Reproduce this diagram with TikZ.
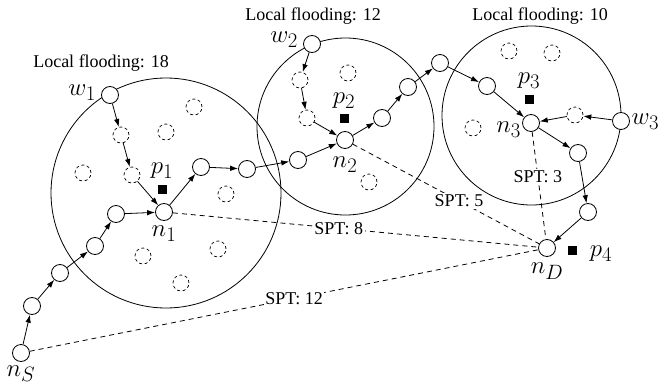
\documentclass[tikz,border=0pt]{standalone}
\usepackage{amsmath}
\usepackage{fontspec}
\setmainfont{Liberation Serif}
\usetikzlibrary{arrows.meta}

\begin{document}
\begin{tikzpicture}[x=1pt,y=-1pt,
	font=\fontsize{18}{21}\selectfont,
	every label/.style={font=\fontsize{24.88}{29}\selectfont,inner sep=1pt},
	sensor/.style={circle,draw,fill=white,line width=0.8pt,minimum size=17pt,inner sep=0pt},
	idle/.style={circle,draw,dash pattern=on 3pt off 2.6pt,line width=0.7pt,minimum size=16pt,inner sep=0pt},
	hop/.style={-{Latex[length=8pt,width=5.5pt]},line width=0.8pt},
	spt/.style={dash pattern=on 5pt off 4pt,line width=0.8pt},
	cost/.style={fill=white,inner sep=1.5pt},
	pkt/.style={fill=black,minimum size=9pt,inner sep=0pt}]
	\useasboundingbox (0,0) rectangle (661,388);

	% flooding areas
	\draw[line width=0.8pt] (166,193) circle (115pt);
	\draw[line width=0.8pt] (345.5,126.5) circle (88.5pt);
	\draw[line width=0.8pt] (531.5,115.5) circle (89.5pt);
	\node (title1) at (101,63) {Local flooding: 18};
	\node (title2) at (313,16) {Local flooding: 12};
	\node (title3) at (540,16) {Local flooding: 10};

	% idle sensors
	\node[idle] (z1) at (166,132) {};
	\node[idle] (z2) at (194,107) {};
	\node[idle] (z3) at (83,173) {};
	\node[idle] (z4) at (226,194) {};
	\node[idle] (z5) at (143,256) {};
	\node[idle] (z6) at (218,249) {};
	\node[idle] (z7) at (181,283) {};
	\node[idle] (z8) at (348,73) {};
	\node[idle] (z9) at (369,182) {};
	\node[idle] (z10) at (509,51) {};
	\node[idle] (z11) at (552,53) {};
	\node[idle] (z12) at (473,128) {};

	% shortest path trees
	\node[sensor,label={[label distance=2.5pt]below:$n_S$}] (nS) at (21,353) {};
	\node[sensor,label={[label distance=4pt]below:$n_1$}] (n1) at (164,212) {};
	\node[sensor,label={[label distance=7pt]below:$n_2$}] (n2) at (345,140) {};
	\node[sensor,label={[yshift=-7pt,label distance=0pt]left:$n_3$}] (n3) at (531,123) {};
	\node[sensor,label={[label distance=5pt]below:$n_D$}] (nD) at (547,248) {};
	\draw[spt] (n1) -- node[cost,pos=0.454] (spt8) {SPT: 8} (nD);
	\draw[spt] (nS) -- node[cost,pos=0.52] (spt12) {SPT: 12} (nD);
	\draw[spt] (n2) -- node[cost,pos=0.57] (spt5) {SPT: 5} (nD);
	\draw[spt] (n3) -- node[cost,pos=0.42] (spt3) {SPT: 3} (nD);

	% data packets
	\node[pkt,label={[label distance=5pt]above:$p_1$}] (pk1) at (162,189) {};
	\node[pkt,label={[label distance=3.5pt]above:$p_2$}] (pk2) at (344,118) {};
	\node[pkt,label={[label distance=4.5pt]above:$p_3$}] (pk3) at (529,99) {};
	\node[pkt,label={[label distance=12pt,yshift=-4pt]right:$p_4$}] (pk4) at (572,250) {};

	% route of the sink
	\node[sensor] (a1) at (32,306) {};
	\node[sensor] (a2) at (60,273) {};
	\node[sensor] (a3) at (95,246) {};
	\node[sensor] (a4) at (116,214) {};
	\node[sensor] (b1) at (201,167) {};
	\node[sensor] (b2) at (247,169) {};
	\node[sensor] (b3) at (298,160) {};
	\node[sensor] (c1) at (382,118) {};
	\node[sensor] (c2) at (408,87) {};
	\node[sensor] (c3) at (440,63) {};
	\node[sensor] (c4) at (487,86) {};
	\node[sensor] (g1) at (578,153) {};
	\node[sensor] (g2) at (588,212) {};
	\draw[hop] (nS) -- (a1);
	\draw[hop] (a1) -- (a2);
	\draw[hop] (a2) -- (a3);
	\draw[hop] (a3) -- (a4);
	\draw[hop] (a4) -- (n1);
	\draw[hop] (n1) -- (b1);
	\draw[hop] (b1) -- (b2);
	\draw[hop] (b2) -- (b3);
	\draw[hop] (b3) -- (n2);
	\draw[hop] (n2) -- (c1);
	\draw[hop] (c1) -- (c2);
	\draw[hop] (c2) -- (c3);
	\draw[hop] (c3) -- (c4);
	\draw[hop] (c4) -- (n3);
	\draw[hop] (n3) -- (g1);
	\draw[hop] (g1) -- (g2);
	\draw[hop] (g2) -- (nD);

	% local flooding from the waiting nodes
	\node[sensor,label={[label distance=4pt,yshift=2pt]left:$w_1$}] (w1) at (110,95) {};
	\node[idle] (d1) at (121,135) {};
	\node[idle] (d2) at (132,175) {};
	\node[sensor,label={[label distance=4pt,yshift=4pt]left:$w_2$}] (w2) at (312,44) {};
	\node[idle] (e1) at (300,80) {};
	\node[idle] (e2) at (307,118) {};
	\node[sensor,label={[label distance=1.5pt,inner sep=0pt,yshift=-1pt]right:$w_3$}] (w3) at (621,121) {};
	\node[idle] (f1) at (575,115) {};
	\draw[hop] (w1) -- (d1);
	\draw[hop] (d1) -- (d2);
	\draw[hop] (d2) -- (n1);
	\draw[hop] (w2) -- (e1);
	\draw[hop] (e1) -- (e2);
	\draw[hop] (e2) -- (n2);
	\draw[hop] (w3) -- (f1);
	\draw[hop] (f1) -- (n3);
\end{tikzpicture}
\end{document}
